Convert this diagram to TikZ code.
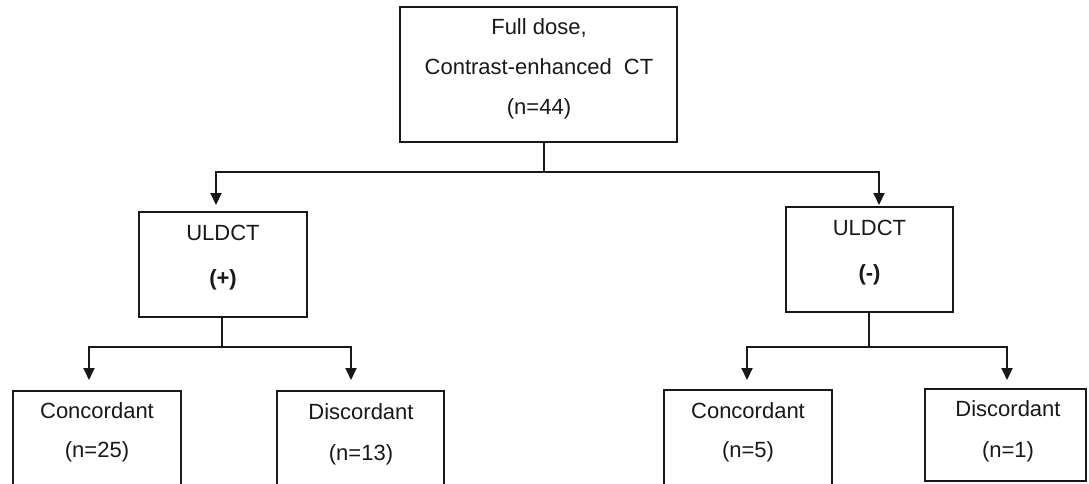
\documentclass[tikz,border=0pt]{standalone}
\usepackage{fontspec}
\setmainfont{Liberation Sans}
\usetikzlibrary{arrows.meta}
\tikzset{
  box/.style={draw=black!90, line width=1.3pt, anchor=north west, inner sep=0pt, outer sep=0pt},
  txt/.style={inner sep=0pt, font=\fontsize{22}{40}\selectfont, align=center, text=black!90},
  conn/.style={draw=black!90, line width=2pt},
  arr/.style={conn, -{Triangle[width=11pt,length=12pt]}}
}
\begin{document}
\begin{tikzpicture}[x=1pt,y=-1pt]
\useasboundingbox (0,0) rectangle (1089,483);
\clip (0,0) rectangle (1089,483);
\fill[white] (0,0) rectangle (1089,483);
% boxes
\node[box, minimum width=277pt, minimum height=135pt] (top) at (400,7) {};
\node[box, minimum width=168pt, minimum height=105pt] (uplus) at (139,212) {};
\node[box, minimum width=167pt, minimum height=105pt] (uminus) at (786,207) {};
\node[box, minimum width=168pt, minimum height=140pt] (c1) at (13,391) {};
\node[box, minimum width=167pt, minimum height=140pt] (d1) at (277,391) {};
\node[box, minimum width=168pt, minimum height=140pt] (c2) at (664,390) {};
\node[box, minimum width=161pt, minimum height=92pt] (d2) at (925,389) {};
% texts
\node[txt] (toptext) at (539,69) {Full dose,\\Contrast-enhanced\ \ CT\\(n=44)};
\node[txt] (upA) at (223,232.5) {ULDCT};
\node[txt] (upB) at (223,280) {\bfseries(+)};
\node[txt] (umA) at (869.5,227.5) {ULDCT};
\node[txt] (umB) at (869.5,275) {\bfseries(-)};
\node[txt] (c1A) at (97,410.5) {Concordant};
\node[txt] (c1B) at (97,452) {(n=25)};
\node[txt] (d1A) at (361,412) {Discordant};
\node[txt] (d1B) at (361,455) {(n=13)};
\node[txt] (c2A) at (748,410.5) {Concordant};
\node[txt] (c2B) at (748,452) {(n=5)};
\node[txt] (d2A) at (1008,409) {Discordant};
\node[txt] (d2B) at (1008,452) {(n=1)};
% junctions
\coordinate (j0) at (544,172);
\coordinate (j1) at (222,347);
\coordinate (j2) at (869,347);
% connectors
\draw[conn] (top.south -| j0) -- (j0);
\draw[arr, shorten >=7pt] (j0) -| ([xshift=-7pt]uplus.north);
\draw[arr, shorten >=2pt] (j0) -| ([xshift=9.5pt]uminus.north);
\draw[conn] (uplus.south -| j1) -- (j1);
\draw[arr, shorten >=11pt] (j1) -| ([xshift=-8pt]c1.north);
\draw[arr, shorten >=11pt] (j1) -| ([xshift=-9.5pt]d1.north);
\draw[conn] (uminus.south -| j2) -- (j2);
\draw[arr, shorten >=10pt] (j2) -| ([xshift=-1pt]c2.north);
\draw[arr, shorten >=9pt] (j2) -| ([xshift=1.5pt]d2.north);
\end{tikzpicture}
\end{document}
